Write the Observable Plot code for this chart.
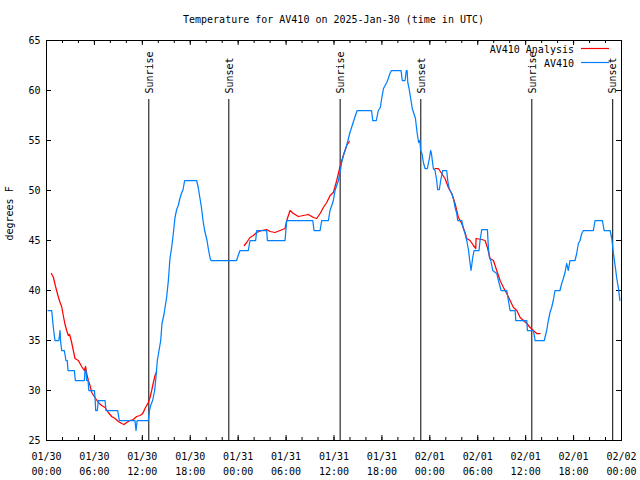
<!DOCTYPE html>
<html><head><meta charset="utf-8">
<script src="https://cdn.jsdelivr.net/npm/d3@7"></script>
<script src="https://cdn.jsdelivr.net/npm/@observablehq/plot@0.6"></script>
<style>
body{margin:0;background:#fff;}
#title{height:30px;box-sizing:border-box;padding:14px 19px 0 46px;text-align:center;font:10px/12px "DejaVu Sans Mono",monospace;color:#000;white-space:pre;}
</style></head><body>
<div id="title">Temperature for AV410 on 2025-Jan-30 (time in UTC)</div>
<div id="chart"></div>
<script>
// hours since 2025-01-30 00:00 UTC
const startUTC = Date.UTC(2025, 0, 30);

const blueHours = [0.19,0.65,0.77,0.9,1.06,1.55,1.69,1.76,1.9,2.23,2.44,2.6,2.69,3.49,3.61,4.74,4.82,4.95,5.03,5.2,5.3,6.0,6.1,6.16,6.36,6.5,7.33,7.45,8.91,9.12,11.08,11.21,11.35,12.75,12.9,13.04,13.29,13.54,13.67,13.88,14.09,14.3,14.46,14.71,15.04,15.26,15.46,15.67,15.88,16.09,16.3,16.5,16.7,16.9,17.1,17.3,18.8,19.0,19.2,19.4,19.6,19.8,20.1,20.3,20.5,20.6,23.8,24.0,24.23,25.27,25.48,26.19,26.32,27.57,27.66,29.87,30.08,33.34,33.5,34.26,34.46,35.3,35.5,35.72,35.92,36.13,36.34,36.55,36.76,36.96,37.17,37.59,38.0,38.4,38.6,38.9,40.7,40.85,41.3,41.55,41.8,41.97,42.2,42.6,42.8,43.0,43.2,44.4,44.55,44.9,45.05,45.15,45.24,45.4,45.6,45.8,46.0,46.2,46.4,46.6,46.75,46.85,47.02,47.19,47.4,47.69,47.94,48.1,48.2,48.44,48.65,48.86,48.98,49.19,49.36,49.61,50.11,50.24,50.45,50.74,50.95,51.16,51.37,51.49,51.99,52.2,52.41,52.62,52.83,53.04,53.16,53.37,53.54,54.16,54.29,54.5,55.21,55.33,55.46,55.63,55.88,56.38,56.59,56.92,57.63,57.84,58.05,58.68,58.76,60.14,60.22,60.97,61.18,62.33,62.63,62.84,63.05,63.25,63.46,63.67,64.3,64.51,64.72,64.93,65.13,65.34,65.55,66.18,66.39,66.6,66.81,67.02,67.23,68.48,68.69,69.61,69.82,70.57,70.78,70.99,71.2,71.41,71.62,71.8];
const blueTemps = [38,38,37,36,35,35,36,35,34,34,33,33,32,32,31,31,32,32,31,31,30,30,29,28,28,29,29,28,28,27,27,26,27,27,28,28.5,29,30,31,33,34,35,36.7,37.6,39.3,41,43.2,44.3,45.7,47.3,48.1,48.5,49.2,49.7,50.1,51,51,50.3,49.3,48.3,47,46,45,44,43.2,43,43,43.5,44,44,45,45,46,46,45,45,47,47,46,46,47,47,48,48.5,49,50,50.5,51,51.8,52.8,53.5,54.5,55.8,56.8,57.3,58,58,57,57,58,58.3,59.2,60.2,60.8,61.2,61.7,62,62,61,61,62,62,60.8,60.2,59.2,58.2,57.7,57.2,55.8,54.8,55,54,53.7,52.8,52.2,52.2,53.2,54,53.7,52.2,52,51,50.1,50.1,51,52,52,51,50.1,49.7,49.2,48.3,47.7,47,47,46.2,45.7,45,44.1,42.7,42,43.3,44,44,45,46.1,46.1,44.3,43.3,43,42,41.7,41,40,40,39,38,38,37,37,36,36,35,35,36,37,37.8,38.3,39,40,40,40.7,41.2,41.8,42.7,42,43,43,43.7,44.7,45,45.7,46,46,47,47,46,46,45.2,43.7,42.5,41.2,40.2,39];

// null marks a gap in the analysis series
const redHours = [0.61,0.87,1.1,1.3,1.5,1.7,1.9,2.1,2.32,2.53,2.73,2.9,3.15,3.36,3.57,3.99,4.4,4.74,4.9,5.03,5.24,5.45,5.66,6.07,6.49,6.91,7.33,7.74,8.16,8.58,9.0,9.41,9.71,10.04,10.45,10.87,11.29,11.7,11.91,12.12,12.33,12.54,12.75,12.96,13.17,13.38,13.59,13.8,
  19,
  24.77,25.06,25.48,25.9,26.32,26.94,27.57,27.99,28.61,29.24,29.87,30.08,30.5,30.91,31.54,32.17,32.79,33.42,33.84,34.26,34.67,35.09,35.51,35.92,36.34,36.76,37.17,37.59,37.92,
  43,
  48.65,49.07,49.49,49.9,50.32,50.74,51.16,51.58,51.99,52.41,52.62,53.04,53.46,53.75,53.79,54.5,54.92,55.21,55.54,55.96,56.38,56.8,57.22,57.63,58.05,58.47,58.89,59.31,59.73,60.14,60.56,60.97,61.39,61.81];
const redTemps = [41.7,41.3,40.5,39.9,39.3,38.8,38.4,37.5,36.6,36,35.5,35.6,34.8,34,33.2,33,32.4,32,32.4,31.7,31,30.5,29.8,29.3,28.8,28.5,28.3,27.8,27.4,27.2,26.9,26.7,26.6,26.8,27,27.1,27.4,27.5,27.6,27.8,28.2,28.5,28.8,29.3,30,30.8,31.5,31.9,
  null,
  44.5,44.8,45.3,45.5,45.8,46,46.1,45.9,45.8,46,46.2,47,48,47.7,47.4,47.5,47.6,47.3,47.2,47.7,48.3,48.8,49.5,49.8,51,52.4,53.5,54.5,54.9,
  null,
  52.2,52.2,51.7,51.2,50.3,49.7,48.7,47.3,46.7,45.8,45.2,45,44.5,44.2,45.2,45.1,45,44.3,43.2,43,42,41,40.3,39.7,39,38.3,38,37.3,37,36.7,36.3,36,35.7,35.7];

const sunHours = [12.81, 22.83, 36.77, 46.87, 60.77, 70.9];
const sunLabels = ["Sunrise", "Sunset", "Sunrise", "Sunset", "Sunrise", "Sunset"];

const xTickHours = [0,6,12,18,24,30,36,42,48,54,60,66,72];
const xTickLabels = ["01/30\n00:00","01/30\n06:00","01/30\n12:00","01/30\n18:00","01/31\n00:00","01/31\n06:00","01/31\n12:00","01/31\n18:00","02/01\n00:00","02/01\n06:00","02/01\n12:00","02/01\n18:00","02/02\n00:00"];
const xMinorHours = d3.range(0, 73, 2);
const yTicks = [25,30,35,40,45,50,55,60,65];

const seriesNames = ["AV410 Analysis", "AV410"];
const seriesColors = ["#ff0000", "#0080ff"];

const toDate = h => new Date(startUTC + h * 3600e3);
const blue = blueHours.map((h, i) => ({t: toDate(h), v: blueTemps[i]}));
const red = redHours.map((h, i) => ({t: toDate(h), v: redTemps[i]}));
const sun = sunHours.map((h, i) => ({t: toDate(h), label: sunLabels[i]}));
const xt = xTickHours.map((h, i) => ({t: toDate(h), label: xTickLabels[i]}));
const xm = xMinorHours.map(toDate);

function legendLines(index, scales, values, dims) {
  const g = d3.create("svg:g");
  const right = dims.width - dims.marginRight;
  seriesColors.forEach((c, i) => {
    g.append("line")
      .attr("x1", right - 40).attr("x2", right - 12)
      .attr("y1", dims.marginTop + 8.5 + i * 14).attr("y2", dims.marginTop + 8.5 + i * 14)
      .attr("stroke", c).attr("stroke-width", 1.2);
  });
  return g.node();
}

const chart = Plot.plot({
  width: 640,
  height: 450,
  marginLeft: 46,
  marginRight: 19,
  marginTop: 10,
  marginBottom: 40,
  style: {fontFamily: "'DejaVu Sans Mono', monospace", fontSize: "10px", background: "white", color: "black"},
  x: {type: "utc", domain: [toDate(0), toDate(72)], axis: null},
  y: {domain: [25, 65], axis: null},
  marks: [
    // ticks (inward, mirrored)
    Plot.ruleX(xm, {x: d => d, insetTop: 397, stroke: "black"}),
    Plot.ruleX(xm, {x: d => d, insetBottom: 397, stroke: "black"}),
    Plot.ruleX(xt, {x: "t", insetTop: 395, stroke: "black"}),
    Plot.ruleX(xt, {x: "t", insetBottom: 395, stroke: "black"}),
    Plot.ruleY(yTicks, {y: d => d, insetRight: 570, stroke: "black"}),
    Plot.ruleY(yTicks, {y: d => d, insetLeft: 570, stroke: "black"}),
    // sunrise / sunset
    Plot.ruleX(sun, {x: "t", insetTop: 59, stroke: "black"}),
    Plot.text(sun, {x: "t", text: "label", frameAnchor: "top", lineAnchor: "middle", dy: 53, dx: 0.5, rotate: -90, textAnchor: "start", fill: "black"}),
    // series
    Plot.line(red, {x: "t", y: "v", stroke: seriesColors[0], strokeWidth: 1.25}),
    Plot.line(blue, {x: "t", y: "v", stroke: seriesColors[1], strokeWidth: 1.25}),
    Plot.frame({stroke: "black"}),
    // axis labels
    Plot.text(xt, {x: "t", text: "label", frameAnchor: "bottom", lineAnchor: "top", dy: 8.5, lineHeight: 1.5, fill: "black"}),
    Plot.text(yTicks, {y: d => d, text: d => String(d), frameAnchor: "left", textAnchor: "end", dx: -6, fill: "black"}),
    Plot.text(["degrees F"], {frameAnchor: "left", dx: -37, rotate: -90, fill: "black"}),
    // legend
    Plot.text(seriesNames, {frameAnchor: "top-right", lineAnchor: "middle", text: d => d, textAnchor: "end", dx: -47.5, fill: "black", filter: (d, i) => i === 0, dy: 9}),
    Plot.text(seriesNames, {frameAnchor: "top-right", lineAnchor: "middle", text: d => d, textAnchor: "end", dx: -47.5, fill: "black", filter: (d, i) => i === 1, dy: 23}),
    legendLines
  ]
});
document.getElementById("chart").appendChild(chart);
</script>
</body></html>
